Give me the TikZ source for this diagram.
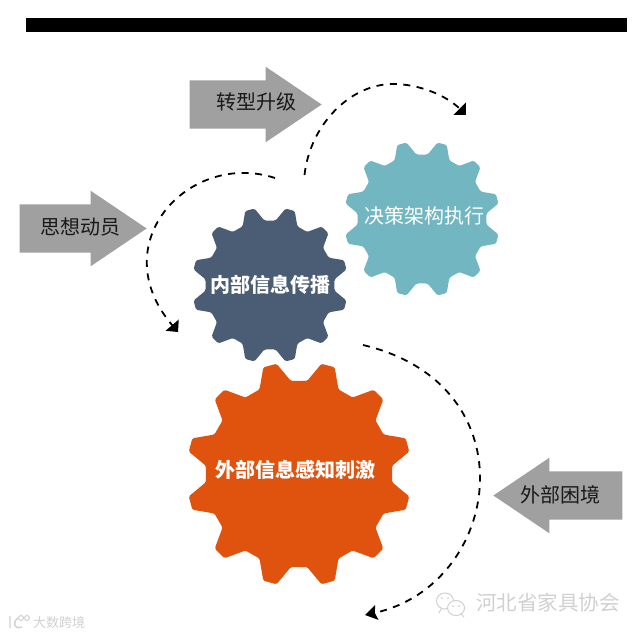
\documentclass[tikz,border=0pt]{standalone}
\usepackage{fontspec}
\usepackage{xcolor}
\usetikzlibrary{arrows.meta,shapes.arrows}
\newfontfamily\cjk{Noto Sans CJK SC}
\definecolor{innerblue}{RGB}{74,93,116}
\definecolor{decisionteal}{RGB}{114,182,194}
\definecolor{outerorange}{RGB}{224,83,14}
\definecolor{arrowgray}{RGB}{160,160,160}
\definecolor{markgray}{RGB}{208,208,208}

\begin{document}
\begin{tikzpicture}[
    x=1pt,y=-1pt,
    gear/.pic={
      \fill[rounded corners=1.5pt,pic actions] (5:83)
        \foreach \a in {15,45,...,345} {
          -- (\a-10:83) -- (\a-3.5:100) -- (\a+3.5:100) -- (\a+10:83)
        } -- cycle;
    },
    gearlabel/.style={font=\cjk\fontsize{20}{20}\selectfont,text=white,inner sep=0pt},
    blockarrow/.style={single arrow,fill=arrowgray,minimum width=75pt,minimum height=132pt,
      single arrow head extend=13.5pt,single arrow tip angle=68,inner xsep=0pt,inner ysep=24pt,anchor=tip},
    arrowlabel/.style={font=\cjk\fontsize{20}{20}\selectfont,text=black!90,inner sep=0pt},
    dashline/.style={draw=black,line width=1.8pt,dash pattern=on 7pt off 6.5pt,-{Triangle[length=9pt,width=17pt]}},
    marktext/.style={inner sep=0pt,text=markgray},
    markline/.style={draw=markgray,line width=1pt}
]
\path[use as bounding box] (0,0) rectangle (640,635);
\fill[black] (26,18) rectangle (627,32);

\coordinate (inner) at (270,285);
\coordinate (decision) at (422,219);
\coordinate (outer) at (299,474);
\pic[fill=decisionteal,scale=.78] at (decision) {gear};
\pic[fill=innerblue,scale=.78] at (inner) {gear};
\pic[fill=outerorange,scale=1.125] at (outer) {gear};
\node[gearlabel] (decisionlabel) at (424,216) {决策架构执行};
\node[gearlabel,font=\cjk\bfseries\fontsize{20}{20}\selectfont] (innerlabel) at (270,285) {内部信息传播};
\node[gearlabel,font=\cjk\bfseries\fontsize{20}{20}\selectfont] (outerlabel) at (295.5,470) {外部信息感知刺激};

\node[blockarrow] (upgrade) at (322,104.5) {};
\node[blockarrow,minimum height=127pt] (mobilize) at (147,228.5) {};
\node[blockarrow,minimum height=129pt,shape border rotate=180] (plight) at (493,495.5) {};
\node[arrowlabel] (upgradelabel) at (256,102) {转型升级};
\node[arrowlabel] (mobilizelabel) at (80,227) {思想动员};
\node[arrowlabel] (plightlabel) at (560,495) {外部困境};

\coordinate (upstart) at (304.5,175);
\coordinate (uptop) at (393,84);
\coordinate (upend) at (466,115);
\coordinate (leftstart) at (275,178);
\coordinate (leftend) at (178,332);
\coordinate (rightstart) at (363,345);
\coordinate (rightend) at (365,615);
\draw[dashline] (upstart) .. controls (310,125) and (350,84) .. (uptop) .. controls (420,84) and (447,96) .. (upend);
\draw[dashline] (leftstart) .. controls (190,150) and (102,243) .. (leftend);
\draw[dashline,-{Stealth[length=12pt,width=15pt,inset=2pt]}] (rightstart) .. controls (532,385) and (502,585) .. (rightend);

% watermarks
\node[marktext,font=\cjk\fontsize{20.5}{21}\selectfont] (assoc) at (548,603) {河北省家具协会};
\node[marktext,font=\cjk\fontsize{13}{14}\selectfont] (site) at (59,622.5) {大数跨境};
\draw[markline] (445,601) ellipse (8.5pt and 8pt) (441,609) -- (439,613);
\draw[markline,fill=white] (456,608) ellipse (8.5pt and 7.5pt) (461,614) -- (464,617);
\fill[markgray] (442,598) circle (1pt) (448,598) circle (1pt) (453,606) circle (1pt) (459,606) circle (1pt);
\draw[markline,line width=1.4pt] (10,616) -- (10,628) (18,618) .. controls (12,622) and (14,630) .. (22,627);
\draw[markline] (21,618) circle (2.5pt) (27,618) circle (2.5pt);
\end{tikzpicture}
\end{document}
